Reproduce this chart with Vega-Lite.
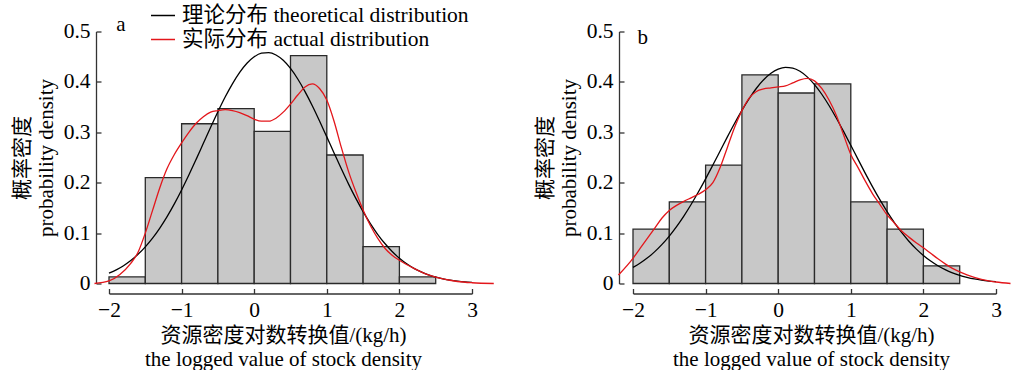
{
  "$schema": "https://vega.github.io/schema/vega-lite/v6.json",
  "padding": {"left": 11, "top": 2.5, "right": 0, "bottom": 0},
  "bounds": "flush",
  "spacing": 161,
  "config": {
    "font": "Liberation Serif, Noto Sans CJK SC",
    "view": {"stroke": null},
    "axis": {
      "grid": false,
      "labelFont": "Liberation Serif, Noto Sans CJK SC",
      "labelFontSize": 21.5,
      "labelColor": "#000",
      "titleFont": "Liberation Serif, Noto Sans CJK SC",
      "titleFontSize": 21,
      "titleFontWeight": "normal",
      "titleColor": "#000",
      "domainColor": "#333",
      "tickColor": "#333",
      "domainWidth": 1.3,
      "tickWidth": 1.3,
      "tickSize": -5,
      "labelPadding": 11,
      "labelFlush": false,
      "labelOverlap": false
    },
    "legend": {
      "labelFont": "Liberation Serif, Noto Sans CJK SC",
      "labelFontSize": 21.5,
      "labelColor": "#000",
      "labelLimit": 0
    }
  },
  "resolve": {"scale": {"color": "independent"}, "legend": {"color": "independent"}},
  "datasets": {
    "histA": [
      {"x0": -2.0, "x1": -1.5, "density": 0.013},
      {"x0": -1.5, "x1": -1.0, "density": 0.21},
      {"x0": -1.0, "x1": -0.5, "density": 0.317},
      {"x0": -0.5, "x1": 0.0, "density": 0.347},
      {"x0": 0.0, "x1": 0.5, "density": 0.302},
      {"x0": 0.5, "x1": 1.0, "density": 0.452},
      {"x0": 1.0, "x1": 1.5, "density": 0.255},
      {"x0": 1.5, "x1": 2.0, "density": 0.073},
      {"x0": 2.0, "x1": 2.5, "density": 0.013}
    ],
    "histB": [
      {"x0": -2.0, "x1": -1.5, "density": 0.108},
      {"x0": -1.5, "x1": -1.0, "density": 0.162},
      {"x0": -1.0, "x1": -0.5, "density": 0.235},
      {"x0": -0.5, "x1": 0.0, "density": 0.414},
      {"x0": 0.0, "x1": 0.5, "density": 0.378},
      {"x0": 0.5, "x1": 1.0, "density": 0.396},
      {"x0": 1.0, "x1": 1.5, "density": 0.162},
      {"x0": 1.5, "x1": 2.0, "density": 0.108},
      {"x0": 2.0, "x1": 2.5, "density": 0.035}
    ],
    "theoA": [
      {"x": -2.0, "y": 0.0204}, {"x": -1.9, "y": 0.027}, {"x": -1.8, "y": 0.0353}, {"x": -1.7, "y": 0.0455},
      {"x": -1.6, "y": 0.0579}, {"x": -1.5, "y": 0.0727}, {"x": -1.4, "y": 0.09}, {"x": -1.3, "y": 0.11},
      {"x": -1.2, "y": 0.1327}, {"x": -1.1, "y": 0.158}, {"x": -1.0, "y": 0.1856}, {"x": -0.9, "y": 0.2152},
      {"x": -0.8, "y": 0.2463}, {"x": -0.7, "y": 0.2781}, {"x": -0.6, "y": 0.3099}, {"x": -0.5, "y": 0.3408},
      {"x": -0.4, "y": 0.37}, {"x": -0.3, "y": 0.3962}, {"x": -0.2, "y": 0.4189}, {"x": -0.1, "y": 0.437},
      {"x": 0.0, "y": 0.4498}, {"x": 0.1, "y": 0.457}, {"x": 0.2, "y": 0.4582}, {"x": 0.3, "y": 0.4534},
      {"x": 0.4, "y": 0.4428}, {"x": 0.5, "y": 0.4267}, {"x": 0.6, "y": 0.4058}, {"x": 0.7, "y": 0.3808},
      {"x": 0.8, "y": 0.3528}, {"x": 0.9, "y": 0.3225}, {"x": 1.0, "y": 0.2909}, {"x": 1.1, "y": 0.259},
      {"x": 1.2, "y": 0.2275}, {"x": 1.3, "y": 0.1972}, {"x": 1.4, "y": 0.1688}, {"x": 1.5, "y": 0.1425},
      {"x": 1.6, "y": 0.1188}, {"x": 1.7, "y": 0.0977}, {"x": 1.8, "y": 0.0793}, {"x": 1.9, "y": 0.0635},
      {"x": 2.0, "y": 0.0502}, {"x": 2.1, "y": 0.0392}, {"x": 2.2, "y": 0.0301}, {"x": 2.3, "y": 0.0229},
      {"x": 2.4, "y": 0.0172}, {"x": 2.5, "y": 0.0127}, {"x": 2.6, "y": 0.0093}, {"x": 2.7, "y": 0.0067},
      {"x": 2.8, "y": 0.0048}, {"x": 2.9, "y": 0.0033}, {"x": 3.0, "y": 0.0023}
    ],
    "actA": [
      {"x": -2.2, "y": 0.0}, {"x": -2.0, "y": 0.005}, {"x": -1.85, "y": 0.018}, {"x": -1.7, "y": 0.04},
      {"x": -1.6, "y": 0.062}, {"x": -1.5, "y": 0.1}, {"x": -1.4, "y": 0.145}, {"x": -1.3, "y": 0.19},
      {"x": -1.2, "y": 0.228}, {"x": -1.1, "y": 0.256}, {"x": -1.0, "y": 0.279}, {"x": -0.9, "y": 0.3},
      {"x": -0.8, "y": 0.318}, {"x": -0.7, "y": 0.331}, {"x": -0.6, "y": 0.34}, {"x": -0.5, "y": 0.343},
      {"x": -0.4, "y": 0.345}, {"x": -0.3, "y": 0.343}, {"x": -0.2, "y": 0.339}, {"x": -0.1, "y": 0.333},
      {"x": 0.0, "y": 0.326}, {"x": 0.1, "y": 0.322}, {"x": 0.2, "y": 0.322}, {"x": 0.3, "y": 0.328},
      {"x": 0.4, "y": 0.34}, {"x": 0.5, "y": 0.356}, {"x": 0.6, "y": 0.374}, {"x": 0.7, "y": 0.39},
      {"x": 0.8, "y": 0.396}, {"x": 0.9, "y": 0.387}, {"x": 1.0, "y": 0.364}, {"x": 1.1, "y": 0.322},
      {"x": 1.2, "y": 0.27}, {"x": 1.3, "y": 0.222}, {"x": 1.4, "y": 0.182}, {"x": 1.5, "y": 0.146},
      {"x": 1.6, "y": 0.115}, {"x": 1.7, "y": 0.09}, {"x": 1.8, "y": 0.07}, {"x": 1.9, "y": 0.056},
      {"x": 2.0, "y": 0.046}, {"x": 2.2, "y": 0.03}, {"x": 2.4, "y": 0.017}, {"x": 2.6, "y": 0.009},
      {"x": 2.8, "y": 0.004}, {"x": 3.0, "y": 0.0015}, {"x": 3.3, "y": 0.0}
    ],
    "theoB": [
      {"x": -2.0, "y": 0.0319}, {"x": -1.9, "y": 0.0406}, {"x": -1.8, "y": 0.0509}, {"x": -1.7, "y": 0.0632},
      {"x": -1.6, "y": 0.0776}, {"x": -1.5, "y": 0.0941}, {"x": -1.4, "y": 0.1128}, {"x": -1.3, "y": 0.1337},
      {"x": -1.2, "y": 0.1567}, {"x": -1.1, "y": 0.1815}, {"x": -1.0, "y": 0.2077}, {"x": -0.9, "y": 0.2351},
      {"x": -0.8, "y": 0.263}, {"x": -0.7, "y": 0.2909}, {"x": -0.6, "y": 0.3179}, {"x": -0.5, "y": 0.3435},
      {"x": -0.4, "y": 0.3669}, {"x": -0.3, "y": 0.3874}, {"x": -0.2, "y": 0.4043}, {"x": -0.1, "y": 0.4172},
      {"x": 0.0, "y": 0.4254}, {"x": 0.1, "y": 0.4289}, {"x": 0.2, "y": 0.4274}, {"x": 0.3, "y": 0.4211},
      {"x": 0.4, "y": 0.41}, {"x": 0.5, "y": 0.3946}, {"x": 0.6, "y": 0.3755}, {"x": 0.7, "y": 0.3532},
      {"x": 0.8, "y": 0.3284}, {"x": 0.9, "y": 0.3018}, {"x": 1.0, "y": 0.2742}, {"x": 1.1, "y": 0.2462},
      {"x": 1.2, "y": 0.2186}, {"x": 1.3, "y": 0.1918}, {"x": 1.4, "y": 0.1664}, {"x": 1.5, "y": 0.1427},
      {"x": 1.6, "y": 0.1209}, {"x": 1.7, "y": 0.1013}, {"x": 1.8, "y": 0.0839}, {"x": 1.9, "y": 0.0687},
      {"x": 2.0, "y": 0.0556}, {"x": 2.1, "y": 0.0445}, {"x": 2.2, "y": 0.0352}, {"x": 2.3, "y": 0.0275},
      {"x": 2.4, "y": 0.0212}, {"x": 2.5, "y": 0.0162}, {"x": 2.6, "y": 0.0123}, {"x": 2.7, "y": 0.0091},
      {"x": 2.8, "y": 0.0067}, {"x": 2.9, "y": 0.0049}, {"x": 3.0, "y": 0.0036}
    ],
    "actB": [
      {"x": -2.2, "y": 0.017}, {"x": -2.0, "y": 0.05}, {"x": -1.9, "y": 0.07}, {"x": -1.8, "y": 0.09},
      {"x": -1.7, "y": 0.11}, {"x": -1.6, "y": 0.13}, {"x": -1.5, "y": 0.145}, {"x": -1.4, "y": 0.155},
      {"x": -1.3, "y": 0.163}, {"x": -1.2, "y": 0.17}, {"x": -1.1, "y": 0.177}, {"x": -1.0, "y": 0.186},
      {"x": -0.9, "y": 0.2}, {"x": -0.8, "y": 0.23}, {"x": -0.7, "y": 0.27}, {"x": -0.6, "y": 0.31},
      {"x": -0.5, "y": 0.343}, {"x": -0.4, "y": 0.368}, {"x": -0.3, "y": 0.381}, {"x": -0.2, "y": 0.386},
      {"x": -0.1, "y": 0.388}, {"x": 0.0, "y": 0.39}, {"x": 0.1, "y": 0.392}, {"x": 0.2, "y": 0.398},
      {"x": 0.3, "y": 0.404}, {"x": 0.4, "y": 0.407}, {"x": 0.5, "y": 0.402}, {"x": 0.6, "y": 0.387},
      {"x": 0.7, "y": 0.364}, {"x": 0.8, "y": 0.334}, {"x": 0.9, "y": 0.295}, {"x": 1.0, "y": 0.256},
      {"x": 1.1, "y": 0.23}, {"x": 1.2, "y": 0.203}, {"x": 1.3, "y": 0.178}, {"x": 1.4, "y": 0.157},
      {"x": 1.5, "y": 0.136}, {"x": 1.6, "y": 0.12}, {"x": 1.7, "y": 0.104}, {"x": 1.8, "y": 0.092},
      {"x": 1.9, "y": 0.081}, {"x": 2.0, "y": 0.071}, {"x": 2.1, "y": 0.06}, {"x": 2.2, "y": 0.049},
      {"x": 2.3, "y": 0.039}, {"x": 2.4, "y": 0.03}, {"x": 2.5, "y": 0.023}, {"x": 2.6, "y": 0.017},
      {"x": 2.7, "y": 0.012}, {"x": 2.8, "y": 0.008}, {"x": 2.9, "y": 0.005}, {"x": 3.0, "y": 0.003},
      {"x": 3.2, "y": 0.0}
    ]
  },
  "hconcat": [
    {
      "width": 363,
      "height": 252,
      "layer": [
        {
          "data": {"name": "histA"},
          "mark": {"type": "bar", "fill": "#c8c8c8", "stroke": "#2a2a2a", "strokeWidth": 1.3},
          "encoding": {
            "x": {
              "field": "x0", "type": "quantitative",
              "scale": {"domain": [-2, 3], "nice": false, "zero": false},
              "axis": {
                "values": [-2, -1, 0, 1, 2, 3], "format": "d", "offset": 10,
                "title": ["资源密度对数转换值/(kg/h)", "the logged value of stock density"],
                "titleLineHeight": 24, "titlePadding": 3, "titleX": 174
              }
            },
            "x2": {"field": "x1"},
            "y": {
              "field": "density", "type": "quantitative",
              "scale": {"domain": [0, 0.5], "nice": false},
              "axis": {
                "values": [0, 0.1, 0.2, 0.3, 0.4, 0.5], "format": "~g", "offset": 13,
                "title": ["概率密度", "probability density"],
                "titleLineHeight": 24, "titlePadding": 7
              }
            },
            "y2": {"datum": 0}
          }
        },
        {
          "data": {"name": "theoA"},
          "mark": {"type": "line", "strokeWidth": 1.3, "interpolate": "monotone"},
          "encoding": {
            "x": {"field": "x", "type": "quantitative"},
            "y": {"field": "y", "type": "quantitative"},
            "color": {
              "datum": "理论分布 theoretical distribution",
              "type": "nominal",
              "scale": {"domain": ["理论分布 theoretical distribution", "实际分布 actual distribution"], "range": ["#000000", "#e3161b"]},
              "legend": {
                "orient": "none", "legendX": 41, "legendY": -29, "title": null,
                "symbolType": "stroke", "symbolSize": 576, "symbolStrokeWidth": 1.5,
                "labelOffset": 6, "rowPadding": -3, "padding": 0
              }
            }
          }
        },
        {
          "data": {"name": "actA"},
          "mark": {"type": "line", "strokeWidth": 1.3, "interpolate": "monotone"},
          "encoding": {
            "x": {"field": "x", "type": "quantitative"},
            "y": {"field": "y", "type": "quantitative"},
            "color": {"datum": "实际分布 actual distribution", "type": "nominal"}
          }
        },
        {
          "data": {"values": [{"label": "a"}]},
          "mark": {"type": "text", "fontSize": 21, "font": "Liberation Serif", "align": "center", "baseline": "middle", "color": "#000"},
          "encoding": {
            "x": {"datum": -1.835, "type": "quantitative"},
            "y": {"datum": 0.513, "type": "quantitative"},
            "text": {"field": "label"}
          }
        }
      ]
    },
    {
      "width": 363,
      "height": 252,
      "layer": [
        {
          "data": {"name": "histB"},
          "mark": {"type": "bar", "fill": "#c8c8c8", "stroke": "#2a2a2a", "strokeWidth": 1.3},
          "encoding": {
            "x": {
              "field": "x0", "type": "quantitative",
              "scale": {"domain": [-2, 3], "nice": false, "zero": false},
              "axis": {
                "values": [-2, -1, 0, 1, 2, 3], "format": "d", "offset": 10,
                "title": ["资源密度对数转换值/(kg/h)", "the logged value of stock density"],
                "titleLineHeight": 24, "titlePadding": 3, "titleX": 178
              }
            },
            "x2": {"field": "x1"},
            "y": {
              "field": "density", "type": "quantitative",
              "scale": {"domain": [0, 0.5], "nice": false},
              "axis": {
                "values": [0, 0.1, 0.2, 0.3, 0.4, 0.5], "format": "~g", "offset": 14,
                "title": ["概率密度", "probability density"],
                "titleLineHeight": 24, "titlePadding": 7
              }
            },
            "y2": {"datum": 0}
          }
        },
        {
          "data": {"name": "theoB"},
          "mark": {"type": "line", "strokeWidth": 1.3, "interpolate": "monotone", "color": "#000000"},
          "encoding": {
            "x": {"field": "x", "type": "quantitative"},
            "y": {"field": "y", "type": "quantitative"}
          }
        },
        {
          "data": {"name": "actB"},
          "mark": {"type": "line", "strokeWidth": 1.3, "interpolate": "monotone", "color": "#e3161b"},
          "encoding": {
            "x": {"field": "x", "type": "quantitative"},
            "y": {"field": "y", "type": "quantitative"}
          }
        },
        {
          "data": {"values": [{"label": "b"}]},
          "mark": {"type": "text", "fontSize": 21, "font": "Liberation Serif", "align": "center", "baseline": "middle", "color": "#000"},
          "encoding": {
            "x": {"datum": -1.865, "type": "quantitative"},
            "y": {"datum": 0.487, "type": "quantitative"},
            "text": {"field": "label"}
          }
        }
      ]
    }
  ]
}
